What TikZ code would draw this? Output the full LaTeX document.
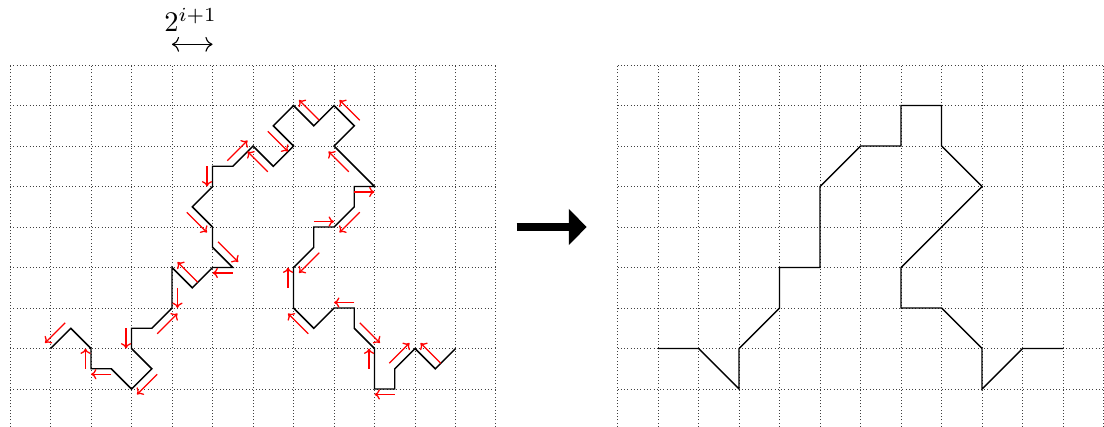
\documentclass[tikz,border=0pt]{standalone}
\usepackage{tikz}
\usetikzlibrary{arrows.meta}

\begin{document}
\begin{tikzpicture}[
    x=0.5cm, y=0.5cm,
    gridline/.style={black!75, line width=0.35pt, dash pattern=on 0.35pt off 0.8pt},
    curve/.style={black, line width=0.5pt},
    movearrow/.style={red, line width=0.45pt, -{To[length=1.9pt, width=3.6pt]}},
    bigarrow/.style={line width=2.9pt, -{Triangle[length=6.3pt, width=12.3pt]}}
]
\useasboundingbox (-0.247,0.062) rectangle (27.012,10.605);

% grids
\draw[gridline, step=1] (0,0.062) grid (12,9);
\draw[gridline, step=1] (15,0.062) grid (27,9);

% width marker
\node[anchor=base] (width) at (4.46,9.82) {$2^{i+1}$};
\coordinate (wl) at (4,9.51);
\coordinate (wr) at (5,9.51);
\draw[<->] (wl) -- (wr);

% curve before
\draw[curve] (1,2) -- (1.5,2.5) -- (2,2) -- (2,1.5) -- (2.5,1.5) -- (3,1) -- (3.5,1.5)
    -- (3,2) -- (3,2.5) -- (3.5,2.5) -- (4,3) -- (4,4) -- (4.5,3.5) -- (5,4) -- (5.5,4)
    -- (5,4.5) -- (5,5) -- (4.5,5.5) -- (5,6) -- (5,6.5) -- (5.5,6.5) -- (6,7) -- (6.5,6.5)
    -- (7,7) -- (6.5,7.5) -- (7,8) -- (7.5,7.5) -- (8,8) -- (8.5,7.5) -- (8,7) -- (9,6)
    -- (8.5,6) -- (8.5,5.5) -- (8,5) -- (7.5,5) -- (7.5,4.5) -- (7,4) -- (7,3) -- (7.5,2.5)
    -- (8,3) -- (8.5,3) -- (8.5,2.5) -- (9,2) -- (9,1) -- (9.5,1) -- (9.5,1.5) -- (10,2)
    -- (10.5,1.5) -- (11,2);

% moves (start/end of half step, side of the offset)
\foreach \ax/\ay/\bx/\by/\dx/\dy in {
    1.5/2.5/1/2/-1/1, 2/1.5/2/2/-1/0, 2.5/1.5/2/1.5/0/-1, 3.5/1.5/3/1/1/-1,
    3/2.5/3/2/-1/0, 3.5/2.5/4/3/1/-1, 4/3.5/4/3/1/0, 4.5/3.5/4/4/1/1,
    5.5/4/5/4/0/-1, 5/4.5/5.5/4/1/1, 4.5/5.5/5/5/-1/-1, 5/6.5/5/6/-1/0,
    5.5/6.5/6/7/-1/1, 6.5/6.5/6/7/-1/-1, 6.5/7.5/7/7/-1/-1, 7.5/7.5/7/8/1/1,
    8.5/7.5/8/8/1/1, 8.5/6.5/8/7/-1/-1, 8.5/6/9/6/0/-1, 8.5/5.5/8/5/1/-1,
    7.5/5/8/5/0/1, 7.5/4.5/7/4/1/-1, 7/3.5/7/4/-1/0, 7.5/2.5/7/3/-1/-1,
    8.5/3/8/3/0/1, 8.5/2.5/9/2/1/1, 9/1.5/9/2/-1/0, 9.5/1/9/1/0/-1,
    9.5/1.5/10/2/-1/1, 10.5/1.5/10/2/1/1}
    \draw[movearrow, shift={({\dx*0.135},{\dy*0.135})}] (\ax,\ay) -- (\bx,\by);

% transition
\coordinate (arrs) at (12.51,5);
\coordinate (arre) at (14.24,5);
\draw[bigarrow] (arrs) -- (arre);

% curve after
\draw[curve] (16,2) -- (17,2) -- (18,1) -- (18,2) -- (19,3) -- (19,4) -- (20,4) -- (20,6)
    -- (21,7) -- (22,7) -- (22,8) -- (23,8) -- (23,7) -- (24,6) -- (22,4) -- (22,3)
    -- (23,3) -- (24,2) -- (24,1) -- (25,2) -- (26,2);

\end{tikzpicture}
\end{document}
